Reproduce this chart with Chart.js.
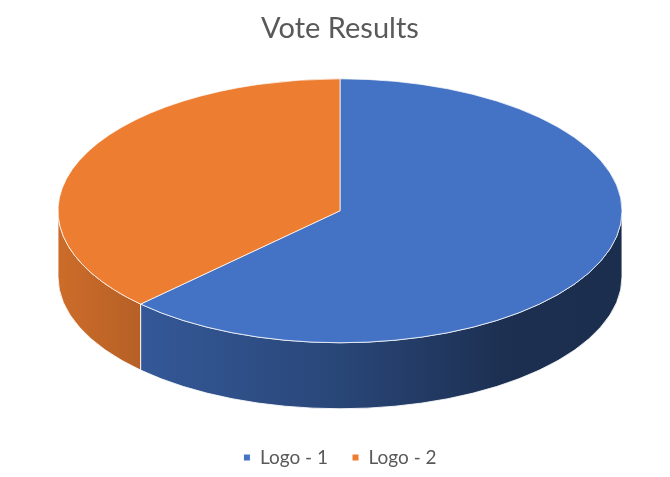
<!DOCTYPE html>
<html lang="en">
<head>
<meta charset="utf-8">
<title>Vote Results</title>
<script src="https://cdn.jsdelivr.net/npm/chart.js@4.4.1/dist/chart.umd.min.js"></script>
<style>
  html, body { margin: 0; padding: 0; background: #fff; }
  #wrap { width: 670px; height: 477px; }
</style>
</head>
<body>
<div id="wrap"><canvas id="chart-votes"></canvas></div>
<script>
const TITLE = 'Vote Results';
const labels = ['Logo - 1', 'Logo - 2'];
const votes = [5, 3];
const colors = ['#4472c4', '#ed7d31'];

const TEXT = '#595959';
const FONT = 'Lato, "Open Sans", sans-serif';

// look of the tilted "3D" disc
const RADIUS = 282; // px, horizontal radius
const TILT = 0.468; // vertical squash of the top face
const DEPTH = 66;   // px, thickness of the wall
// lighting of the wall from left to right (factor on the slice colour)
const WALL_SHADE = [[0, 0.86], [0.15, 0.77], [0.5, 0.61], [0.8, 0.41], [1, 0.4]];

function shade(hex, f) {
  const n = parseInt(hex.slice(1), 16);
  const r = Math.round(((n >> 16) & 255) * f);
  const g = Math.round(((n >> 8) & 255) * f);
  const b = Math.round((n & 255) * f);
  return `rgb(${r},${g},${b})`;
}

// draws the front wall under the slices and squashes the slices into an ellipse
const tiltedPie = {
  id: 'tiltedPie',
  beforeDatasetsDraw(chart) {
    const { ctx, chartArea } = chart;
    const arcs = chart.getDatasetMeta(0).data;
    if (!arcs.length) return;
    const cx = arcs[0].x;
    const cy = arcs[0].y;
    const ry = RADIUS * TILT;
    const top = chartArea.top + ry; // centre of the top face

    arcs.forEach((arc, i) => {
      const grad = ctx.createLinearGradient(cx - RADIUS, 0, cx + RADIUS, 0);
      WALL_SHADE.forEach(([t, f]) => grad.addColorStop(t, shade(colors[i], f)));
      // only the front half (0..PI) of the wall can be seen
      [-2 * Math.PI, 0, 2 * Math.PI].forEach(off => {
        const s = Math.max(arc.startAngle + off, 0);
        const e = Math.min(arc.endAngle + off, Math.PI);
        if (e <= s) return;
        ctx.beginPath();
        ctx.ellipse(cx, top, RADIUS, ry, 0, s, e);
        ctx.ellipse(cx, top + DEPTH, RADIUS, ry, 0, e, s, true);
        ctx.closePath();
        ctx.fillStyle = grad;
        ctx.fill();
        ctx.strokeStyle = 'rgba(255,255,255,0.85)';
        ctx.lineWidth = 1;
        ctx.stroke();
      });
    });

    ctx.save();
    ctx.translate(0, top);
    ctx.scale(1, TILT);
    ctx.translate(0, -cy);
  },
  afterDatasetsDraw(chart) {
    if (chart.getDatasetMeta(0).data.length) chart.ctx.restore();
  },
};

new Chart(document.getElementById('chart-votes'), {
  type: 'pie',
  data: {
    labels,
    datasets: [{
      data: votes,
      backgroundColor: colors,
      borderColor: '#fff',
      borderWidth: 1,
      radius: RADIUS,
      clip: false,
      hoverOffset: 0,
    }],
  },
  options: {
    responsive: true,
    maintainAspectRatio: false,
    animation: false,
    events: [],
    layout: { padding: { left: 10 } },
    plugins: {
      title: {
        display: true,
        text: TITLE,
        color: TEXT,
        font: { family: FONT, size: 29, weight: 'normal' },
        padding: { top: 11, bottom: 33 },
      },
      legend: {
        position: 'bottom',
        labels: {
          color: TEXT,
          font: { family: FONT, size: 19 },
          boxWidth: 7,
          boxHeight: 7,
          padding: 24,
        },
      },
      tooltip: { enabled: false },
    },
  },
  plugins: [tiltedPie],
});
</script>
</body>
</html>
